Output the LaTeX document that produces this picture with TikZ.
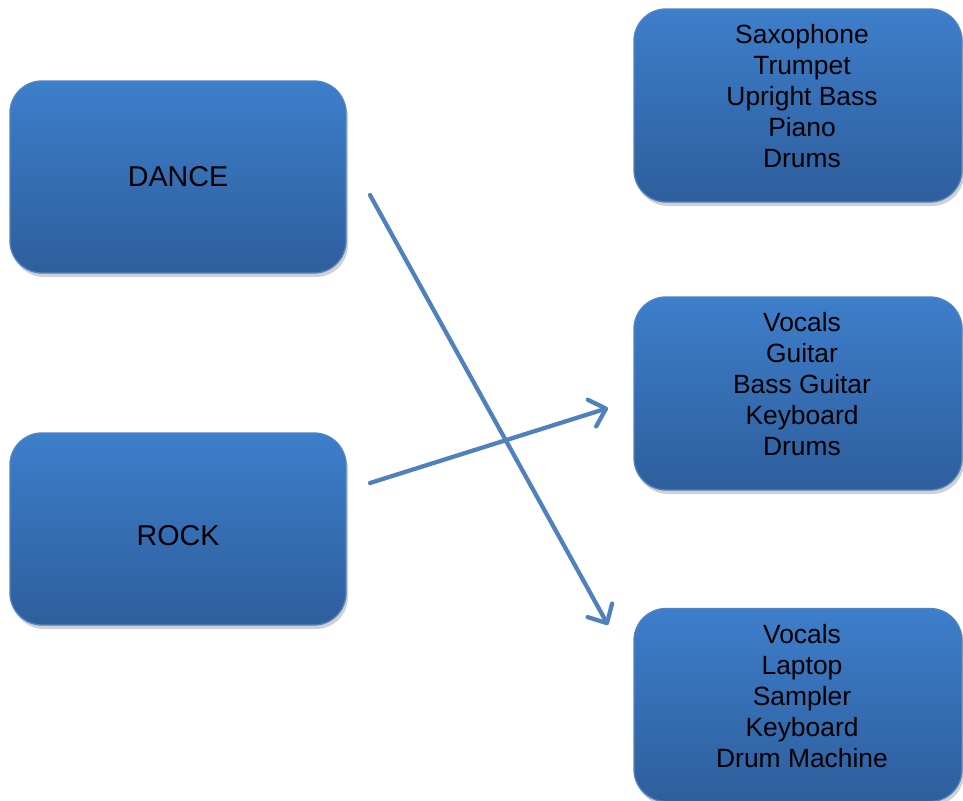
\documentclass[tikz,border=0pt]{standalone}
\usepackage{fontspec}
\setmainfont{Liberation Sans}
\usetikzlibrary{arrows.meta,shadows,calc}
\definecolor{boxtop}{RGB}{61,126,202}
\definecolor{boxbot}{RGB}{46,94,157}
\definecolor{boxedge}{RGB}{80,130,195}
\definecolor{arrowc}{RGB}{79,129,189}
\tikzset{
  box/.style={rectangle, rounded corners=24pt, top color=boxtop, bottom color=boxbot,
    draw=boxedge, line width=1pt,
    drop shadow={shadow xshift=1.5pt, shadow yshift=-3pt, opacity=0.3, fill=black!60}},
  lbl/.style={align=center, font=\fontsize{19.8}{23.25}\selectfont, text=black, inner sep=0pt},
  biglbl/.style={lbl, font=\fontsize{21.5}{25}\selectfont},
  conn/.style={draw=arrowc, line width=3.2pt, line cap=round,
    -{Straight Barb[length=11pt,width=21pt,line width=3.2pt,round]}}
}
\begin{document}
\begin{tikzpicture}[x=0.75pt,y=-0.75pt]
\useasboundingbox (0,0) rectangle (963,800);
% left boxes
\node[box, minimum width=252pt, minimum height=144pt] (dance) at (178,177) {};
\node[biglbl] (dancet) at (178,177) {DANCE};
\node[box, minimum width=252pt, minimum height=144pt] (rock) at (178,529) {};
\node[biglbl] (rockt) at (178,536) {ROCK};
% right boxes
\node[box, minimum width=246pt, minimum height=144.75pt] (jazz) at (798,105.5) {};
\node[lbl] (jazzt) at (802,96.5) {Saxophone\\Trumpet\\Upright Bass\\Piano\\Drums};
\node[box, minimum width=246pt, minimum height=144.75pt] (band) at (798,393.5) {};
\node[lbl] (bandt) at (802,384.5) {Vocals\\Guitar\\Bass Guitar\\Keyboard\\Drums};
\node[box, minimum width=246pt, minimum height=144.75pt] (elec) at (798,705) {};
\node[lbl] (elect) at (802,696.5) {Vocals\\Laptop\\Sampler\\Keyboard\\Drum Machine};
% connectors
\coordinate (d1) at (370,195);
\coordinate (d2) at (608,625);
\coordinate (r1) at (370,483);
\coordinate (r2) at (608,408);
\draw[conn] (d1) -- (d2);
\draw[conn] (r1) -- (r2);
\end{tikzpicture}
\end{document}
